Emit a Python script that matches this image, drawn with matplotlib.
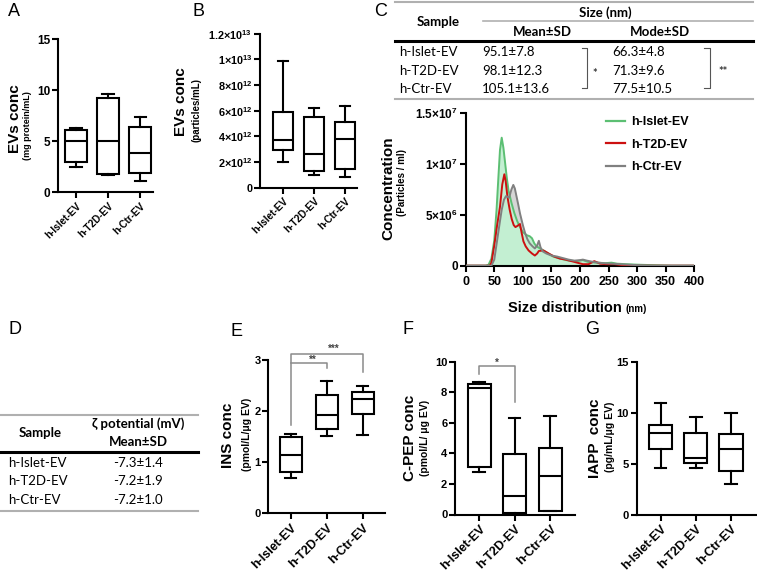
import matplotlib
matplotlib.use("Agg")
import matplotlib.pyplot as plt

plt.rcParams['font.family'] = ['Liberation Sans', 'DejaVu Sans']
plt.rcParams['font.weight'] = 'bold'
plt.rcParams['mathtext.fontset'] = 'custom'
plt.rcParams['mathtext.rm'] = 'Liberation Sans:bold'
plt.rcParams['mathtext.bf'] = 'Liberation Sans:bold'
plt.rcParams['mathtext.it'] = 'Liberation Sans:bold:italic'

# ---------------- data ----------------
groups = ['h-Islet-EV', 'h-T2D-EV', 'h-Ctr-EV']

# Panel A: EVs conc (mg protein/mL)
A_low = [2.5, 1.7, 1.1]
A_q1 = [2.95, 1.8, 1.93]
A_med = [5.03, 5.07, 3.89]
A_q3 = [6.11, 9.28, 6.4]
A_high = [6.34, 9.67, 7.42]

# Panel B: EVs conc (particles/mL), x1e12
B_low = [1.97, 1.01, 0.83]
B_q1 = [2.96, 1.32, 1.48]
B_med = [3.71, 2.65, 3.82]
B_q3 = [5.92, 5.48, 5.12]
B_high = [9.9, 6.23, 6.34]

# Panel C table
C_mean = ['95.1±7.8', '98.1±12.3', '105.1±13.6']
C_mode = ['66.3±4.8', '71.3±9.6', '77.5±10.5']

# Panel C size distribution (nm, particles/ml x1e6)
islet_x = [0, 35, 40, 45, 50, 54, 57, 60, 63, 66, 69, 72, 75, 80, 85, 90, 95, 100, 107, 112, 116,
           120, 124, 130, 136, 145, 153, 165, 180, 195, 205, 215, 230, 245, 255, 265, 280, 300, 330, 360, 400]
islet_y = [0, 0, 0.1, 0.7, 2.5, 5.5, 8.5, 11.4, 12.6, 11.6, 10.1, 8.6, 7.4, 6.2, 5.2, 4.4, 3.8, 3.3, 3.0, 2.9, 2.7,
           2.2, 1.9, 1.7, 1.5, 1.2, 0.9, 0.7, 0.5, 0.45, 0.55, 0.35, 0.3, 0.25, 0.3, 0.2, 0.15, 0.1, 0.05, 0.0, 0.0]
t2d_x = [0, 42, 45, 50, 55, 60, 64, 67.6, 70, 73, 77, 80.5, 84, 87, 90, 95, 98, 101, 105, 110, 116, 121, 125,
         128, 136, 145, 155, 165, 175, 185, 195, 205, 215, 225, 235, 245, 260, 275, 300, 400]
t2d_y = [0, 0, 0.3, 2.0, 4.0, 5.8, 8.0, 9.0, 8.3, 6.8, 5.5, 4.6, 4.0, 3.8, 3.9, 4.1, 3.2, 2.4, 1.9, 1.5, 1.2, 1.0, 1.2,
         1.45, 1.5, 1.2, 0.9, 0.7, 0.6, 0.45, 0.3, 0.15, 0.15, 0.45, 0.2, 0.15, 0.15, 0.05, 0.0, 0.0]
ctr_x = [0, 45, 50, 55, 60, 63, 67, 70.5, 76, 80, 83.3, 86, 89, 92, 95, 100, 104, 108, 112, 117, 121, 125, 128,
         131, 135, 141, 150, 160, 170, 180, 190, 200, 205, 212, 225, 240, 255, 270, 285, 300, 330, 400]
ctr_y = [0, 0, 0.6, 2.5, 4.4, 5.5, 6.5, 6.85, 6.7, 7.5, 7.95, 7.6, 6.8, 6.0, 5.15, 4.0, 3.2, 2.6, 2.2, 1.9, 1.7, 2.0, 2.45,
         1.8, 1.4, 1.2, 1.0, 0.9, 0.75, 0.6, 0.5, 0.55, 0.6, 0.5, 0.35, 0.25, 0.2, 0.15, 0.1, 0.05, 0.0, 0.0]

# Panel D table
D_zeta = ['-7.3±1.4', '-7.2±1.9', '-7.2±1.0']

# Panel E: INS conc
E_low = [0.70, 1.51, 1.53]
E_q1 = [0.80, 1.64, 1.95]
E_med = [1.15, 1.92, 2.24]
E_q3 = [1.49, 2.32, 2.38]
E_high = [1.56, 2.59, 2.50]

# Panel F: C-PEP conc
F_low = [2.77, 0.05, 0.2]
F_q1 = [3.12, 0.13, 0.24]
F_med = [8.25, 1.22, 2.51]
F_q3 = [8.54, 3.97, 4.34]
F_high = [8.65, 6.31, 6.44]

# Panel G: IAPP conc
G_low = [4.63, 4.63, 3.07]
G_q1 = [6.49, 5.05, 4.30]
G_med = [8.02, 5.61, 6.46]
G_q3 = [8.77, 8.05, 7.96]
G_high = [10.99, 9.62, 9.98]

# ---------------- figure ----------------
W, H = 757, 580
fig = plt.figure(figsize=(W / 100, H / 100), dpi=100)
ov = fig.add_axes([0, 0, 1, 1])
ov.set_xlim(0, W)
ov.set_ylim(H, 0)
ov.set_axis_off()


def px_axes(l, t, r, b):
    return fig.add_axes([l / W, 1 - b / H, (r - l) / W, (b - t) / H])


def style_axes(ax, tick_fs, yticks, ylabels=None):
    for s in ['top', 'right']:
        ax.spines[s].set_visible(False)
    for s in ['left', 'bottom']:
        ax.spines[s].set_linewidth(1.5)
    ax.tick_params(axis='both', width=1.5, length=4, direction='out')
    ax.set_yticks(yticks)
    if ylabels is not None:
        ax.set_yticklabels(ylabels)
    for lab in ax.get_yticklabels():
        lab.set_fontsize(tick_fs)
        lab.set_fontweight('bold')
    ax.tick_params(axis='y', pad=1.5)


def draw_box(ax, low, q1, med, q3, high, width, scale=1.0):
    stats = []
    for i in range(3):
        stats.append(dict(whislo=low[i] * scale, q1=q1[i] * scale, med=med[i] * scale,
                          q3=q3[i] * scale, whishi=high[i] * scale, fliers=[]))
    lw = 1.5
    ax.bxp(stats, positions=[1, 2, 3], widths=width, capwidths=width * 0.5,
           showfliers=False, patch_artist=True,
           boxprops=dict(facecolor='white', edgecolor='black', linewidth=lw),
           medianprops=dict(color='black', linewidth=lw),
           whiskerprops=dict(color='black', linewidth=lw),
           capprops=dict(color='black', linewidth=lw))


def cat_xticks(ax, fs):
    ax.set_xticks([1, 2, 3])
    ax.set_xticklabels(groups, rotation=45, ha='right', rotation_mode='anchor',
                       fontsize=fs, fontweight='bold')
    ax.tick_params(axis='x', pad=2)


# ---- Panel A ----
axA = px_axes(58, 39.3, 153, 192.3)
draw_box(axA, A_low, A_q1, A_med, A_q3, A_high, 0.7)
axA.set_xlim(0.44, 3.4)
axA.set_ylim(0, 15)
style_axes(axA, 8.5, [0, 5, 10, 15])
cat_xticks(axA, 7.2)

# ---- Panel B ----
axB = px_axes(260, 33.7, 357, 187.7)
draw_box(axB, B_low, B_q1, B_med, B_q3, B_high, 0.62, scale=1e12)
axB.set_xlim(0.26, 3.39)
axB.set_ylim(0, 1.2e13)
style_axes(axB, 7.8, [0, 2e12, 4e12, 6e12, 8e12, 1e13, 1.2e13],
           ['0', r'$2{\times}10^{12}$', r'$4{\times}10^{12}$', r'$6{\times}10^{12}$',
            r'$8{\times}10^{12}$', r'$1{\times}10^{13}$', r'$1.2{\times}10^{13}$'])
cat_xticks(axB, 7.2)

# ---- Panel C chart ----
axC = px_axes(465.7, 113.3, 694.3, 265.7)
green_line = '#5cbf73'
green_fill = '#c3efd2'
axC.fill_between(ctr_x, [v * 1e6 for v in ctr_y], color='#d6d6d6', lw=0, zorder=1)
axC.fill_between(islet_x, [v * 1e6 for v in islet_y], color=green_fill, lw=0, zorder=2)
axC.plot(islet_x, [v * 1e6 for v in islet_y], color=green_line, lw=1.4, zorder=3, label='h-Islet-EV')
axC.plot(t2d_x, [v * 1e6 for v in t2d_y], color='#cc1010', lw=1.4, zorder=4, label='h-T2D-EV')
axC.plot(ctr_x, [v * 1e6 for v in ctr_y], color='#808080', lw=1.4, zorder=5, label='h-Ctr-EV')
axC.set_xlim(0, 400)
axC.set_ylim(0, 1.5e7)
style_axes(axC, 8.5, [0, 5e6, 1e7, 1.5e7],
           ['0', r'$5{\times}10^{6}$', r'$1{\times}10^{7}$', r'$1.5{\times}10^{7}$'])
axC.set_xticks(range(0, 401, 50))
for lab in axC.get_xticklabels():
    lab.set_fontsize(9)
    lab.set_fontweight('bold')
leg = axC.legend(loc='upper left', bbox_to_anchor=((606 - 465.7) / 228.6, (265.7 - 116) / 152.4),
                 frameon=False, fontsize=9, handlelength=1.5, handletextpad=0.5,
                 labelspacing=0.85, borderaxespad=0, borderpad=0)
for t in leg.get_texts():
    t.set_fontweight('bold')
for l in leg.get_lines():
    l.set_linewidth(1.6)

# ---- Panel E ----
axE = px_axes(268.3, 360, 385, 513.3)
draw_box(axE, E_low, E_q1, E_med, E_q3, E_high, 0.62)
axE.set_xlim(0.37, 3.62)
axE.set_ylim(0, 3)
style_axes(axE, 8, [0, 1, 2, 3])
cat_xticks(axE, 9)
sig_gray = '#8a8a8a'
E_br_top = 3.12
E_br_mid = 2.95
axE.plot([1, 1, 3, 3], [1.73, E_br_top, E_br_top, 2.77], color=sig_gray, lw=1.1, clip_on=False)
axE.plot([1, 2, 2], [E_br_mid, E_br_mid, 2.84], color=sig_gray, lw=1.1, clip_on=False)
axE.text(1.6, 3.0, '**', fontsize=7, color='#444444', ha='center', va='center', clip_on=False)
axE.text(2.18, 3.21, '***', fontsize=7, color='#444444', ha='center', va='center', clip_on=False)

# ---- Panel F ----
axF = px_axes(455, 361.7, 575, 514.5)
draw_box(axF, F_low, F_q1, F_med, F_q3, F_high, 0.65)
axF.set_xlim(0.32, 3.70)
axF.set_ylim(0, 10)
style_axes(axF, 8, [0, 2, 4, 6, 8, 10])
cat_xticks(axF, 9)
axF.plot([1, 1, 2, 2], [9.19, 9.72, 9.72, 7.34], color=sig_gray, lw=1.1, clip_on=False)
axF.text(1.5, 9.95, '*', fontsize=7, color='#444444', ha='center', va='center', clip_on=False)

# ---- Panel G ----
axG = px_axes(636.7, 361.7, 756, 515)
draw_box(axG, G_low, G_q1, G_med, G_q3, G_high, 0.66)
axG.set_xlim(0.32, 3.71)
axG.set_ylim(0, 15)
style_axes(axG, 8, [0, 5, 10, 15])
cat_xticks(axG, 9)

# ---- axis titles (in pixel coords on overlay) ----
def ylab(x, y, text, fs):
    ov.text(x, y, text, rotation=90, ha='center', va='center', fontsize=fs, fontweight='bold')

ylab(15, 119, 'EVs conc', 11)
ylab(28, 126, '(mg protein/mL)', 6.5)
ylab(181, 102, 'EVs conc', 11)
ylab(197, 110, '(particles/mL)', 7)
ylab(388, 188, 'Concentration', 11)
ylab(402, 183, '(Particles / ml)', 7)
ylab(228, 435, 'INS conc', 11)
ylab(246.5, 434, '(pmol/L/μg EV)', 7.5)
ylab(410, 438, 'C-PEP conc', 11)
ylab(425.5, 438, '(pmol/L/ μg EV)', 7.5)
ylab(595, 438, 'IAPP  conc', 11)
ylab(610, 437, '(pg/mL/μg EV)', 7.5)

ov.text(508, 308, 'Size distribution', fontsize=10.5, fontweight='bold', ha='left', va='center')
ov.text(626, 309, '(nm)', fontsize=7, fontweight='bold', ha='left', va='center')

# panel letters
for letter, x, y in [('A', 8, 12), ('B', 193, 12), ('C', 374, 12), ('D', 9, 330),
                     ('E', 230, 332), ('F', 403, 330), ('G', 585, 330)]:
    ov.text(x, y, letter, fontsize=13, fontweight='normal', ha='left', va='center',
            family=['Liberation Sans', 'DejaVu Sans'])

# ---- tables ----
tfam = ['Lato', 'DejaVu Sans']
tfs = 9.5
lgray = '#b0b0b0'

# Table C
ov.plot([395, 753], [2, 2], color=lgray, lw=1.5)
ov.plot([483, 753], [21, 21], color=lgray, lw=1.2)
ov.plot([395, 753], [41, 41], color='black', lw=2.2)
ov.plot([395, 753], [99, 99], color=lgray, lw=1.5)
ov.text(438, 21.5, 'Sample', family=tfam, fontsize=tfs, fontweight='bold', ha='center', va='center')
ov.text(605, 13, 'Size (nm)', family=tfam, fontsize=tfs, fontweight='bold', ha='center', va='center')
ov.text(542, 32, 'Mean±SD', family=tfam, fontsize=tfs, fontweight='bold', ha='center', va='center')
ov.text(660, 32, 'Mode±SD', family=tfam, fontsize=tfs, fontweight='bold', ha='center', va='center')
row_y = [51.7, 70.7, 89.3]
for i in range(3):
    ov.text(399, row_y[i], groups[i], family=tfam, fontsize=tfs, fontweight='normal', ha='left', va='center')
    ov.text(482, row_y[i], C_mean[i], family=tfam, fontsize=tfs, fontweight='normal', ha='left', va='center')
    ov.text(612, row_y[i], C_mode[i], family=tfam, fontsize=tfs, fontweight='normal', ha='left', va='center')
ov.plot([582, 587, 587, 582], [47.7, 47.7, 88.3, 88.3], color='#555555', lw=0.8)
ov.plot([704, 710, 710, 704], [47.7, 47.7, 88.3, 88.3], color='#555555', lw=0.8)
ov.text(595, 74, '*', family=tfam, fontsize=8, ha='center', va='center', color='#333333')
ov.text(723, 72, '**', family=tfam, fontsize=8, ha='center', va='center', color='#333333')

# Table D
ov.plot([0, 198], [415, 415], color=lgray, lw=1.5)
ov.plot([0, 198], [452, 452], color='black', lw=2.2)
ov.plot([0, 198], [511, 511], color=lgray, lw=1.5)
ov.text(40, 433, 'Sample', family=tfam, fontsize=tfs, fontweight='bold', ha='center', va='center')
ov.text(138, 424, 'ζ potential (mV)', family=tfam, fontsize=tfs, fontweight='bold', ha='center', va='center')
ov.text(138, 442, 'Mean±SD', family=tfam, fontsize=tfs, fontweight='bold', ha='center', va='center')
d_rows = [462.7, 481.3, 500]
for i in range(3):
    ov.text(8, d_rows[i], groups[i], family=tfam, fontsize=tfs, fontweight='normal', ha='left', va='center')
    ov.text(138, d_rows[i], D_zeta[i], family=tfam, fontsize=tfs, fontweight='normal', ha='center', va='center')

fig.savefig('out.png', dpi=100)
